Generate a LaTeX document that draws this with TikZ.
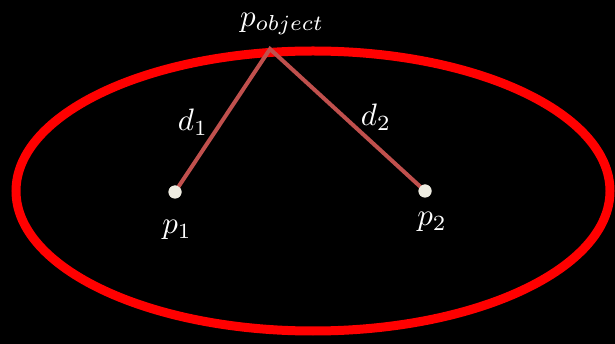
\documentclass[tikz,border=0pt]{standalone}
\usepackage{graphicx}
\usepackage{tikz}
\definecolor{ellred}{RGB}{255,0,0}
\definecolor{linered}{RGB}{192,80,77}
\definecolor{dotwhite}{RGB}{238,236,225}
\newcommand{\biglbl}[1]{\scalebox{3.1}{$#1$}}
\begin{document}
\begin{tikzpicture}[x=1pt,y=-1pt,
  lbl/.style={text=white,inner sep=0pt},
  dist/.style={draw=linered,line width=4pt},
  focus/.style={circle,fill=dotwhite,minimum size=13pt,inner sep=0pt}]
\useasboundingbox[fill=black] (0,0) rectangle (615,344);
\draw[ellred,line width=9pt] (313,191) ellipse [x radius=297,y radius=140];
\coordinate (po) at (270,49);
\node[focus] (p1) at (175,192) {};
\node[focus] (p2) at (425,191) {};
\draw[dist,line join=miter] (p1.center) -- (po) -- (p2.center);
\node[focus] at (175,192) {};
\node[focus] at (425,191) {};
\node[lbl] (lpo) at (282,24) {\biglbl{p_{object}}};
\node[lbl] (ld1) at (193,122) {\biglbl{d_1}};
\node[lbl] (ld2) at (376,117) {\biglbl{d_2}};
\node[lbl] (lp1) at (177,230) {\biglbl{p_1}};
\node[lbl] (lp2) at (432,222) {\biglbl{p_2}};
\end{tikzpicture}
\end{document}
